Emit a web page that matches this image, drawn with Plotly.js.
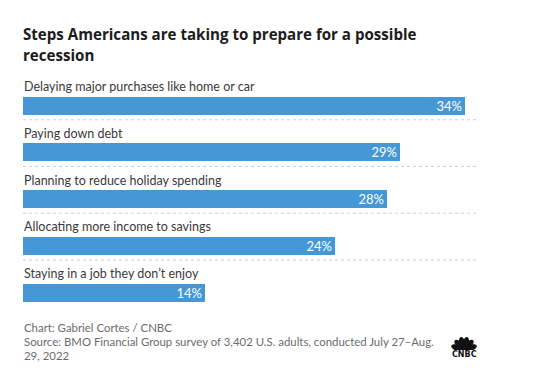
<!DOCTYPE html>
<html><head><meta charset="utf-8">
<script src="https://cdn.plot.ly/plotly-3.0.1.min.js"></script>
<style>html,body{margin:0;padding:0;background:#fff}#chart{width:535px;height:383px}</style>
</head><body><div id="chart"></div>
<script>
const categories = [
  "Delaying major purchases like home or car",
  "Paying down debt",
  "Planning to reduce holiday spending",
  "Allocating more income to savings",
  "Staying in a job they don\u2019t enjoy"
];
const values = [34, 29, 28, 24, 14];
const titleLines = ["Steps Americans are taking to prepare for a possible", "recession"];
const footerLines = [
  "Chart: Gabriel Cortes / CNBC",
  "Source: BMO Financial Group survey of 3,402 U.S. adults, conducted July 27\u2013Aug.",
  "29, 2022"
];

const W = 535, H = 383, ML = 23, MR = 57, MT = 59, MB = 67;
const plotH = H - MT - MB, plotW = W - ML - MR;
const py = p => (H - MB - p) / plotH;   // pixel y -> paper y
const px = p => (p - ML) / plotW;       // pixel x -> paper x
const FONT = "Lato, 'Open Sans', Arial, sans-serif";
const TFONT = "'Open Sans', Lato, Arial, sans-serif";

const annotations = [];
categories.forEach(c => annotations.push({
  x: 0, xref: 'x', y: c, yref: 'y', xanchor: 'left', yanchor: 'middle', yshift: 19,
  text: c, showarrow: false, borderpad: 0, font: {family: FONT, size: 12.5, color: '#3a3a3a'}
}));
const titleY = [34, 55];
titleLines.forEach((t, i) => annotations.push({
  x: px(22), xref: 'paper', y: py(titleY[i]), yref: 'paper', xanchor: 'left', yanchor: 'middle',
  text: '<b>' + t + '</b>', showarrow: false, borderpad: 0, font: {family: TFONT, size: 15.1, color: '#1c1c1c'}
}));
const footY = [327, 341, 355];
footerLines.forEach((t, i) => annotations.push({
  x: px(23), xref: 'paper', y: py(footY[i]), yref: 'paper', xanchor: 'left', yanchor: 'middle',
  text: t, showarrow: false, borderpad: 0, font: {family: FONT, size: 11.4, color: '#6b6b6b'}
}));
annotations.push({
  x: px(464), xref: 'paper', y: py(354), yref: 'paper', xanchor: 'center', yanchor: 'middle',
  text: '<b>CNBC</b>', showarrow: false, borderpad: 0, font: {family: "'DejaVu Sans', Arial, sans-serif", size: 8, color: '#111'}
});

// peacock feathers
let feathers = '';
[-72, -43, -14, 14, 43, 72].forEach(a => {
  feathers += `<ellipse cx="15" cy="7.2" rx="3.1" ry="6.6" transform="rotate(${a} 15 14)" fill="#111"/>`;
});
const svg = `<svg xmlns="http://www.w3.org/2000/svg" width="30" height="14" viewBox="0 0 30 14">${feathers}</svg>`;
const images = [{
  source: 'data:image/svg+xml;charset=utf-8,' + encodeURIComponent(svg),
  xref: 'paper', yref: 'paper', x: px(449), y: py(336), sizex: 30 / plotW, sizey: 14 / plotH,
  xanchor: 'left', yanchor: 'top', sizing: 'stretch', layer: 'above'
}];

const shapes = [];
for (let i = 0; i < categories.length - 1; i++) {
  shapes.push({type: 'line', xref: 'paper', x0: 0, x1: 1, yref: 'y', y0: i + 0.3, y1: i + 0.3,
    line: {color: '#cfcfcf', width: 1, dash: 'dot'}});
}

const trace = {
  type: 'bar', orientation: 'h', x: values, y: categories,
  marker: {color: '#4697d6'}, width: 0.385,
  text: values.map(v => v + '%'), textposition: 'inside', insidetextanchor: 'end',
  textfont: {family: FONT, size: 13, color: '#ffffff'}, constraintext: 'none',
  hoverinfo: 'skip', cliponaxis: false
};

const layout = {
  width: W, height: H, margin: {l: ML, r: MR, t: MT, b: MB, pad: 0},
  paper_bgcolor: '#fff', plot_bgcolor: '#fff', showlegend: false,
  xaxis: {range: [0, 35], visible: false, fixedrange: true},
  yaxis: {type: 'category', range: [4.5, -1], showticklabels: false, showgrid: false,
    zeroline: false, showline: false, ticks: '', fixedrange: true},
  annotations, shapes, images, bargap: 0
};
Plotly.newPlot('chart', [trace], layout, {displayModeBar: false, staticPlot: true});
</script></body></html>
